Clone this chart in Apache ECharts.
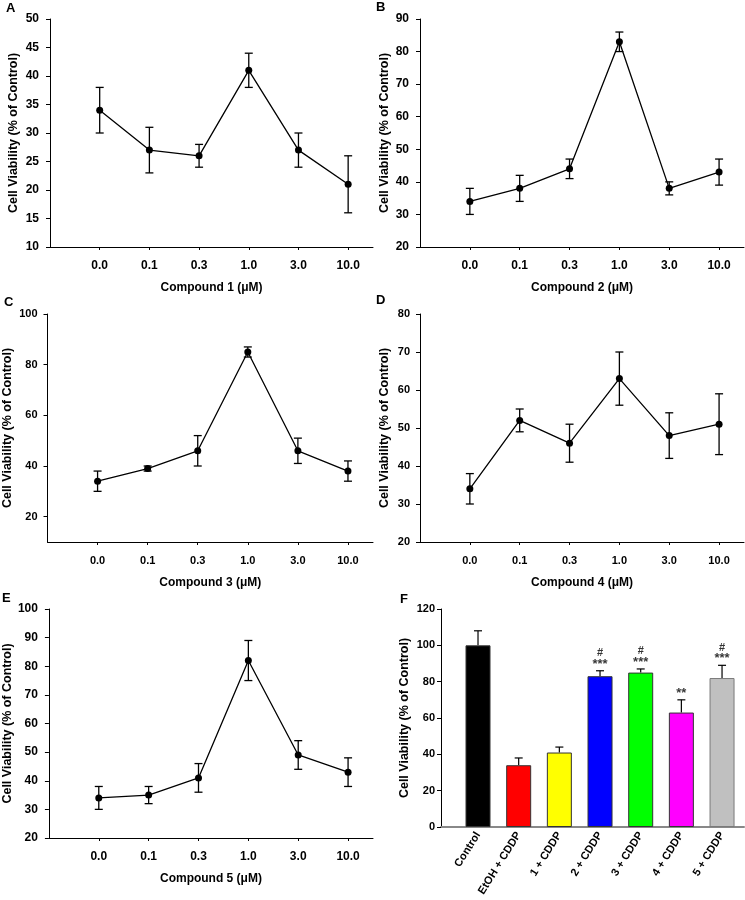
<!DOCTYPE html>
<html>
<head>
<meta charset="utf-8">
<script src="https://cdn.jsdelivr.net/npm/echarts@6/dist/echarts.min.js"></script>
<style>
html,body{margin:0;padding:0;background:#fff;}
#chart{width:745px;height:900px;}
</style>
</head>
<body>
<div id="chart"></div>
<script>
// ---------- DATA ----------
const doseLabels = ['0.0', '0.1', '0.3', '1.0', '3.0', '10.0'];

const compound1Mean = [34, 27, 26, 41, 27, 21];
const compound1Err  = [4, 4, 2, 3, 3, 5];

const compound2Mean = [34, 38, 44, 83, 38, 43];
const compound2Err  = [4, 4, 3, 3, 2, 4];

const compound3Mean = [34, 39, 46, 85, 46, 38];
const compound3Err  = [4, 1, 6, 2, 5, 4];

const compound4Mean = [34, 52, 46, 63, 48, 51];
const compound4Err  = [4, 3, 5, 7, 6, 8];

const compound5Mean = [34, 35, 41, 82, 49, 43];
const compound5Err  = [4, 3, 5, 7, 5, 5];

const barCategories = ['Control', 'EtOH + CDDP', '1 + CDDP', '2 + CDDP', '3 + CDDP', '4 + CDDP', '5 + CDDP'];
const barMean = [100, 34, 41, 83, 85, 63, 82];
const barErr  = [8, 4, 3, 3, 2, 7, 7];
const barHash  = ['', '', '', '#', '#', '', '#'];
const barStars = ['', '', '', '***', '***', '**', '***'];
const barColors = ['#000000', '#ff0000', '#ffff00', '#0000ff', '#00ff00', '#ff00ff', '#c0c0c0'];

const yAxisTitle = 'Cell Viability (% of Control)';
const panelLetters = ['A', 'B', 'C', 'D', 'E', 'F'];

// ---------- CHART ----------
const FONT = '"Liberation Sans", Arial, sans-serif';
const chart = echarts.init(document.getElementById('chart'), null, {renderer: 'canvas'});

const lineSets = [
  {mean: compound1Mean, err: compound1Err, name: 'Compound 1 (μM)'},
  {mean: compound2Mean, err: compound2Err, name: 'Compound 2 (μM)'},
  {mean: compound3Mean, err: compound3Err, name: 'Compound 3 (μM)'},
  {mean: compound4Mean, err: compound4Err, name: 'Compound 4 (μM)'},
  {mean: compound5Mean, err: compound5Err, name: 'Compound 5 (μM)'}
];

const grids = [
  {left: 50,  top: 19,  width: 323, height: 228},
  {left: 420, top: 19,  width: 324, height: 228},
  {left: 47,  top: 314, width: 326, height: 228},
  {left: 420, top: 314, width: 324, height: 228},
  {left: 47,  top: 609, width: 326, height: 229},
  {left: 441, top: 609, width: 303, height: 218}
];

const yCfg = [
  {min: 10, max: 50, interval: 5, gap: 30, fs: 12, margin: 11},
  {min: 20, max: 90, interval: 10, gap: 28.5, fs: 12, margin: 11},
  {min: 10, max: 100, interval: 10, gap: 33.5, fs: 11, margin: 10, custom: [20, 40, 60, 80, 100]},
  {min: 20, max: 80, interval: 10, gap: 28.5, fs: 11, margin: 10},
  {min: 20, max: 100, interval: 10, gap: 33.5, fs: 12, margin: 11},
  {min: 0, max: 120, interval: 20, gap: 29.5, fs: 11, margin: 6}
];

const TITLE_FS = 12.5;
const axisLineStyle = {color: '#000', width: 1};
const xAxes = [];
const yAxes = [];
const series = [];

function makeY(i) {
  const yc = yCfg[i];
  const yAx = {
    type: 'value', gridIndex: i, min: yc.min, max: yc.max, interval: yc.interval,
    splitLine: {show: false},
    axisLine: {show: true, lineStyle: axisLineStyle},
    axisTick: {show: true, length: 4, lineStyle: {color: '#000'}},
    axisLabel: {fontFamily: FONT, fontWeight: 'bold', fontSize: yc.fs, color: '#000', margin: yc.margin},
    name: yAxisTitle, nameLocation: 'middle', nameGap: yc.gap, nameRotate: 90,
    nameTextStyle: {fontFamily: FONT, fontWeight: 'bold', fontSize: TITLE_FS, color: '#000'}
  };
  if (yc.custom) {
    yAx.axisTick.customValues = yc.custom;
    yAx.axisLabel.customValues = yc.custom;
  }
  return yAx;
}

lineSets.forEach((s, i) => {
  xAxes.push({
    type: 'value', gridIndex: i, min: 0, max: 6.5,
    splitLine: {show: false},
    axisLine: {show: true, lineStyle: axisLineStyle, onZero: false},
    axisTick: {show: true, length: 3, inside: false, customValues: [1, 2, 3, 4, 5, 6], lineStyle: {color: '#000'}},
    axisLabel: {
      customValues: [1, 2, 3, 4, 5, 6],
      formatter: v => doseLabels[Math.round(v) - 1] || '',
      fontFamily: FONT, fontWeight: 'bold', fontSize: yCfg[i].fs, color: '#000', margin: 13
    },
    name: s.name, nameLocation: 'middle', nameGap: 35,
    nameTextStyle: {fontFamily: FONT, fontWeight: 'bold', fontSize: 12, color: '#000'}
  });
  yAxes.push(makeY(i));

  const pts = s.mean.map((m, k) => [k + 1, m, s.err[k]]);
  series.push({
    type: 'custom', xAxisIndex: i, yAxisIndex: i,
    data: pts, encode: {x: 0, y: 1}, z: 2,
    renderItem: (params, api) => {
      const x = api.value(0), y = api.value(1), e = api.value(2);
      const t = api.coord([x, y + e]);
      const b = api.coord([x, y - e]);
      const st = {stroke: '#000', lineWidth: 1.3};
      return {type: 'group', children: [
        {type: 'line', shape: {x1: t[0], y1: t[1], x2: b[0], y2: b[1]}, style: st},
        {type: 'line', shape: {x1: t[0] - 4, y1: t[1], x2: t[0] + 4, y2: t[1]}, style: st},
        {type: 'line', shape: {x1: b[0] - 4, y1: b[1], x2: b[0] + 4, y2: b[1]}, style: st}
      ]};
    }
  });
  series.push({
    type: 'line', xAxisIndex: i, yAxisIndex: i, z: 3,
    data: s.mean.map((m, k) => [k + 1, m]),
    symbol: 'circle', symbolSize: 7,
    itemStyle: {color: '#000'},
    lineStyle: {color: '#000', width: 1.3},
    animation: false
  });
});

// Panel F
xAxes.push({
  type: 'value', gridIndex: 5, min: 0.09, max: 7.54,
  splitLine: {show: false},
  axisLine: {show: true, lineStyle: {color: '#888', width: 2}, onZero: false},
  axisTick: {show: false},
  axisLabel: {
    customValues: [1, 2, 3, 4, 5, 6, 7],
    formatter: v => barCategories[Math.round(v) - 1] || '',
    rotate: 58, fontFamily: FONT, fontWeight: 'bold', fontSize: 11, color: '#000', margin: 6
  }
});
yAxes.push(makeY(5));

series.push({
  type: 'custom', xAxisIndex: 5, yAxisIndex: 5, z: 1,
  data: barMean.map((m, k) => [k + 1, m, barErr[k]]), encode: {x: 0, y: 1},
  renderItem: (params, api) => {
    const x = api.value(0), y = api.value(1), e = api.value(2);
    const t = api.coord([x, y + e]);
    const b = api.coord([x, y]);
    const st = {stroke: '#000', lineWidth: 1.2};
    return {type: 'group', children: [
      {type: 'line', shape: {x1: t[0], y1: t[1], x2: b[0], y2: b[1]}, style: st},
      {type: 'line', shape: {x1: t[0] - 4, y1: t[1], x2: t[0] + 4, y2: t[1]}, style: st}
    ]};
  }
});
series.push({
  type: 'bar', xAxisIndex: 5, yAxisIndex: 5, z: 2,
  barWidth: 25,
  data: barMean.map((m, k) => ({
    value: [k + 1, m],
    itemStyle: {color: barColors[k], borderColor: k === 6 ? '#7a7a7a' : '#333', borderWidth: 1}
  })),
  animation: false
});
series.push({
  type: 'scatter', xAxisIndex: 5, yAxisIndex: 5, z: 4,
  symbolSize: 0,
  data: barMean.map((m, k) => [k + 1, m + barErr[k]]),
  label: {
    show: true, position: 'top', distance: 1,
    formatter: p => {
      const h = barHash[p.dataIndex], s = barStars[p.dataIndex];
      if (!s) return '';
      return (h ? '{h|' + h + '}\n' : '') + '{s|' + s + '}';
    },
    align: 'center',
    rich: {
      h: {fontFamily: FONT, fontWeight: 'bold', fontSize: 11, lineHeight: 11, color: '#000', align: 'center'},
      s: {fontFamily: FONT, fontWeight: 'bold', fontSize: 13, lineHeight: 11, color: '#000', align: 'center'}
    }
  },
  silent: true, animation: false
});

const letterPos = [[6, 2], [376, 1], [4, 296], [376, 294], [2, 592], [400, 593]];
const graphic = panelLetters.map((L, i) => ({
  type: 'text', left: letterPos[i][0], top: letterPos[i][1],
  style: {text: L, font: 'bold 13px ' + FONT, fill: '#000'}
}));

chart.setOption({
  animation: false,
  backgroundColor: '#fff',
  grid: grids.map(g => Object.assign({containLabel: false}, g)),
  xAxis: xAxes,
  yAxis: yAxes,
  series: series,
  graphic: graphic
});
</script>
</body>
</html>
